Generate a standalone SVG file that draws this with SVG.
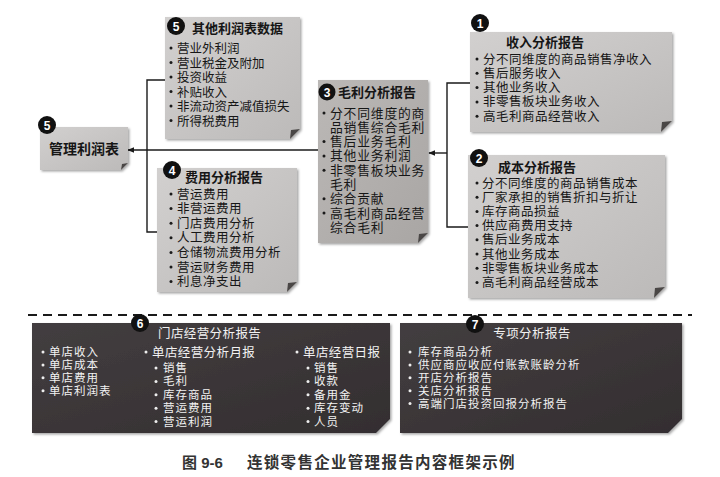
<svg xmlns="http://www.w3.org/2000/svg" width="720" height="477" viewBox="0 0 720 477">
<defs>
<filter id="sh" x="-10%" y="-10%" width="125%" height="125%">
<feDropShadow dx="1.5" dy="1.5" stdDeviation="1.2" flood-color="#000" flood-opacity="0.35"/>
</filter>
<linearGradient id="g1" x1="0" y1="0" x2="1" y2="1">
<stop offset="0" stop-color="#d2d0cf"/><stop offset="1" stop-color="#bcbab9"/>
</linearGradient>
<linearGradient id="g3" x1="0" y1="0" x2="1" y2="1">
<stop offset="0" stop-color="#bbb8b6"/><stop offset="1" stop-color="#a9a6a4"/>
</linearGradient>
<linearGradient id="gd" x1="0" y1="0" x2="1" y2="1">
<stop offset="0" stop-color="#433e40"/><stop offset="1" stop-color="#332e30"/>
</linearGradient>
<marker id="arr" viewBox="0 0 10 10" refX="9" refY="5" markerWidth="7" markerHeight="7" orient="auto" markerUnits="userSpaceOnUse">
<path d="M0,1 L10,5 L0,9 Z" fill="#1a1a1a"/>
</marker>
</defs>
<style>
text{font-family:"Liberation Sans","Noto Sans CJK SC",sans-serif;fill:#161616}
.t{font-size:13px;font-weight:bold}
.i{font-size:12.5px;letter-spacing:0.5px}
.m{font-size:12.8px;letter-spacing:0.8px}
.s{font-size:12.5px}
.n{font-size:12px;font-weight:bold;fill:#fff;text-anchor:middle}
.w{fill:#f2f2f2;font-size:11.5px;letter-spacing:1px}
.wt{fill:#f2f2f2;font-size:12.5px;letter-spacing:0.4px}
.b{fill:#1a1a1a}
.bw{fill:#eee}
.note{fill:url(#g1);filter:url(#sh)}
.note3{fill:url(#g3);filter:url(#sh)}
.dark{fill:url(#gd);filter:url(#sh)}
.fold{fill:#4a4746}
.badge{fill:#111}
.ln{stroke:#1a1a1a;stroke-width:1.4;fill:none}
</style>
<rect width="720" height="477" fill="#fff"/>

<g id="connectors">
<polyline class="ln" points="165,80 147,80 147,232 157,232"/>
<line class="ln" x1="318" y1="150" x2="128" y2="150" marker-end="url(#arr)"/>
<polyline class="ln" points="470,83 447,83 447,227 468,227"/>
<line class="ln" x1="447" y1="153" x2="429" y2="153" marker-end="url(#arr)"/>
<line x1="28" y1="315" x2="692" y2="315" stroke="#1a1a1a" stroke-width="2" stroke-dasharray="9,6"/>
</g>

<g id="node-other">
<path class="note" d="M165,17 H300 V129 L290,139 H165 Z"/>
<path class="fold" d="M290,139 L300,129 L291,130 Z"/>
<circle class="badge" cx="176" cy="26" r="9"/>
<text class="n" x="176" y="30.5">5</text>
<text class="t" x="192" y="33">其他利润表数据</text>
<g class="b"><circle cx="171" cy="48" r="1.5"/><circle cx="171" cy="62.5" r="1.5"/><circle cx="171" cy="77" r="1.5"/><circle cx="171" cy="91.5" r="1.5"/><circle cx="171" cy="106" r="1.5"/><circle cx="171" cy="120.5" r="1.5"/></g>
<text class="s" x="177" y="53">营业外利润</text>
<text class="s" x="177" y="67.5">营业税金及附加</text>
<text class="s" x="177" y="82">投资收益</text>
<text class="s" x="177" y="96.5">补贴收入</text>
<text class="s" x="177" y="111">非流动资产减值损失</text>
<text class="s" x="177" y="125.5">所得税费用</text>
</g>

<g id="node-mgmt">
<path class="note" d="M40,127 H128 V163 L121,170 H40 Z"/>
<path class="fold" d="M121,170 L128,163 L122,164 Z"/>
<circle class="badge" cx="47" cy="125" r="9"/>
<text class="n" x="47" y="129.5">5</text>
<text class="t" x="84" y="154" text-anchor="middle" style="font-size:14px">管理利润表</text>
</g>

<g id="node-expense">
<path class="note" d="M157,168 H297 V282 L287,292 H157 Z"/>
<path class="fold" d="M287,292 L297,282 L288,283 Z"/>
<circle class="badge" cx="172" cy="170" r="9"/>
<text class="n" x="172" y="174.5">4</text>
<text class="t" x="185" y="182">费用分析报告</text>
<g class="b"><circle cx="171" cy="194" r="1.5"/><circle cx="171" cy="208.6" r="1.5"/><circle cx="171" cy="223.2" r="1.5"/><circle cx="171" cy="237.8" r="1.5"/><circle cx="171" cy="252.4" r="1.5"/><circle cx="171" cy="267" r="1.5"/><circle cx="171" cy="281.6" r="1.5"/></g>
<text class="i" x="177" y="198.5">营运费用</text>
<text class="i" x="177" y="213.1">非营运费用</text>
<text class="i" x="177" y="227.7">门店费用分析</text>
<text class="i" x="177" y="242.3">人工费用分析</text>
<text class="i" x="177" y="256.9">仓储物流费用分析</text>
<text class="i" x="177" y="271.5">营运财务费用</text>
<text class="i" x="177" y="286.1">利息净支出</text>
</g>

<g id="node-gross">
<path class="note3" d="M318,80 H428 V233 L418,243 H318 Z"/>
<path class="fold" d="M418,243 L428,233 L419,234 Z"/>
<circle class="badge" cx="327" cy="92" r="8.5"/>
<text class="n" x="327" y="96.5">3</text>
<text class="t" x="338" y="97">毛利分析报告</text>
<g class="b"><circle cx="324" cy="113" r="1.5"/><circle cx="324" cy="141.6" r="1.5"/><circle cx="324" cy="155.9" r="1.5"/><circle cx="324" cy="170.2" r="1.5"/><circle cx="324" cy="198.8" r="1.5"/><circle cx="324" cy="213.1" r="1.5"/></g>
<text class="m" x="330" y="117.5">分不同维度的商</text>
<text class="m" x="330" y="131.8">品销售综合毛利</text>
<text class="m" x="330" y="146.1">售后业务毛利</text>
<text class="m" x="330" y="160.4">其他业务利润</text>
<text class="m" x="330" y="174.7">非零售板块业务</text>
<text class="m" x="330" y="189">毛利</text>
<text class="m" x="330" y="203.3">综合贡献</text>
<text class="m" x="330" y="217.6">高毛利商品经营</text>
<text class="m" x="330" y="231.9">综合毛利</text>
</g>

<g id="node-income">
<path class="note" d="M470,32 H672 V121 L661,132 H470 Z"/>
<path class="fold" d="M661,132 L672,121 L662,122 Z"/>
<circle class="badge" cx="480" cy="23" r="9"/>
<text class="n" x="480" y="27.5">1</text>
<text class="t" x="545" y="47" text-anchor="middle">收入分析报告</text>
<g class="b"><circle cx="477" cy="59" r="1.5"/><circle cx="477" cy="73.3" r="1.5"/><circle cx="477" cy="87.6" r="1.5"/><circle cx="477" cy="101.9" r="1.5"/><circle cx="477" cy="116.2" r="1.5"/></g>
<text class="i" x="483" y="63.5">分不同维度的商品销售净收入</text>
<text class="i" x="483" y="77.8">售后服务收入</text>
<text class="i" x="483" y="92.1">其他业务收入</text>
<text class="i" x="483" y="106.4">非零售板块业务收入</text>
<text class="i" x="483" y="120.7">高毛利商品经营收入</text>
</g>

<g id="node-cost">
<path class="note" d="M468,155 H665 V287 L654,298 H468 Z"/>
<path class="fold" d="M654,298 L665,287 L655,288 Z"/>
<circle class="badge" cx="479" cy="158" r="9"/>
<text class="n" x="479" y="162.5">2</text>
<text class="t" x="498" y="172">成本分析报告</text>
<g class="b"><circle cx="477" cy="183" r="1.5"/><circle cx="477" cy="197.2" r="1.5"/><circle cx="477" cy="211.4" r="1.5"/><circle cx="477" cy="225.6" r="1.5"/><circle cx="477" cy="239.8" r="1.5"/><circle cx="477" cy="254" r="1.5"/><circle cx="477" cy="268.2" r="1.5"/><circle cx="477" cy="282.4" r="1.5"/></g>
<text class="i" x="482" y="187.5">分不同维度的商品销售成本</text>
<text class="i" x="482" y="201.7">厂家承担的销售折扣与折让</text>
<text class="i" x="482" y="215.9">库存商品损益</text>
<text class="i" x="482" y="230.1">供应商费用支持</text>
<text class="i" x="482" y="244.3">售后业务成本</text>
<text class="i" x="482" y="258.5">其他业务成本</text>
<text class="i" x="482" y="272.7">非零售板块业务成本</text>
<text class="i" x="482" y="286.9">高毛利商品经营成本</text>
</g>

<g id="node-store">
<path class="dark" d="M32,323 H390 V419 L376,433 H32 Z"/>
<circle class="badge" cx="140" cy="323" r="9"/>
<text class="n" x="140" y="327.5">6</text>
<text class="wt" x="158" y="338">门店经营分析报告</text>
<g class="bw"><circle cx="43" cy="352" r="1.5"/><circle cx="43" cy="364.9" r="1.5"/><circle cx="43" cy="377.8" r="1.5"/><circle cx="43" cy="390.7" r="1.5"/>
<circle cx="146" cy="352" r="1.5"/><circle cx="156" cy="368" r="1.5"/><circle cx="156" cy="381.4" r="1.5"/><circle cx="156" cy="394.8" r="1.5"/><circle cx="156" cy="408.2" r="1.5"/><circle cx="156" cy="421.6" r="1.5"/>
<circle cx="297" cy="352" r="1.5"/><circle cx="308" cy="368" r="1.5"/><circle cx="308" cy="381.4" r="1.5"/><circle cx="308" cy="394.8" r="1.5"/><circle cx="308" cy="408.2" r="1.5"/><circle cx="308" cy="421.6" r="1.5"/></g>
<text class="w" x="49" y="356">单店收入</text>
<text class="w" x="49" y="368.9">单店成本</text>
<text class="w" x="49" y="381.8">单店费用</text>
<text class="w" x="49" y="394.7">单店利润表</text>
<text class="wt" x="152" y="356.5">单店经营分析月报</text>
<text class="w" x="163" y="372">销售</text>
<text class="w" x="163" y="385.4">毛利</text>
<text class="w" x="163" y="398.8">库存商品</text>
<text class="w" x="163" y="412.2">营运费用</text>
<text class="w" x="163" y="425.6">营运利润</text>
<text class="wt" x="303" y="356.5">单店经营日报</text>
<text class="w" x="314" y="372">销售</text>
<text class="w" x="314" y="385.4">收款</text>
<text class="w" x="314" y="398.8">备用金</text>
<text class="w" x="314" y="412.2">库存变动</text>
<text class="w" x="314" y="425.6">人员</text>
</g>

<g id="node-special">
<path class="dark" d="M400,323 H682 V419 L668,433 H400 Z"/>
<circle class="badge" cx="475" cy="324" r="9"/>
<text class="n" x="475" y="328.5">7</text>
<text class="wt" x="532" y="338" text-anchor="middle">专项分析报告</text>
<g class="bw"><circle cx="410" cy="352" r="1.5"/><circle cx="410" cy="364.9" r="1.5"/><circle cx="410" cy="377.8" r="1.5"/><circle cx="410" cy="390.7" r="1.5"/><circle cx="410" cy="403.6" r="1.5"/></g>
<text class="w" x="418" y="356">库存商品分析</text>
<text class="w" x="418" y="368.9">供应商应收应付账款账龄分析</text>
<text class="w" x="418" y="381.8">开店分析报告</text>
<text class="w" x="418" y="394.7">关店分析报告</text>
<text class="w" x="418" y="407.6">高端门店投资回报分析报告</text>
</g>

<g id="caption">
<text x="182" y="468" style="font-size:15px;font-weight:bold;fill:#333">图 9-6</text>
<text x="247" y="468" style="font-size:15.5px;font-weight:bold;fill:#333;letter-spacing:1.3px">连锁零售企业管理报告内容框架示例</text>
</g>
</svg>
